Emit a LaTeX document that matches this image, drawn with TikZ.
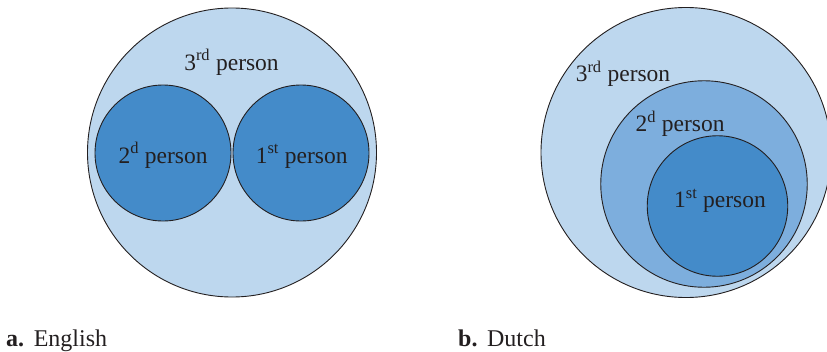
\documentclass[tikz,border=0pt]{standalone}
\usepackage{fontspec}
\setmainfont{Liberation Serif}
\definecolor{lightb}{RGB}{189,215,238}
\definecolor{midb}{RGB}{125,174,221}
\definecolor{darkb}{RGB}{68,139,201}
\definecolor{ink}{RGB}{35,31,32}
\begin{document}
\begin{tikzpicture}[x=1pt,y=-1pt,
  ring/.style={circle, draw=ink, line width=0.9pt, inner sep=0pt},
  lbl/.style={text=ink, font=\fontsize{23.5}{28}\selectfont, inner sep=0pt, anchor=base},
  captext/.style={text=ink, font=\fontsize{24}{28}\selectfont, inner sep=0pt, anchor=base west}]
\useasboundingbox (0,0) rectangle (827,351);
% a. English
\node[ring, fill=lightb, minimum size=289pt] (L3) at (232,152.5) {};
\node[ring, fill=darkb, minimum size=136pt] (L2) at (163,153) {};
\node[ring, fill=darkb, minimum size=136pt] (L1) at (301,153) {};
\node[lbl] (L3t) at (231.5,70) {3\textsuperscript{rd} person};
\node[lbl] (L2t) at (163,163) {2\textsuperscript{d} person};
\node[lbl] (L1t) at (301.7,163) {1\textsuperscript{st} person};
% b. Dutch
\node[ring, fill=lightb, minimum size=290pt] (R3) at (686,152.5) {};
\node[ring, fill=midb, minimum size=206.5pt] (R2) at (704,184) {};
\node[ring, fill=darkb, minimum size=140.5pt] (R1) at (717.5,206) {};
\node[lbl] (R3t) at (623,81.5) {3\textsuperscript{rd} person};
\node[lbl] (R2t) at (680,131.5) {2\textsuperscript{d} person};
\node[lbl] (R1t) at (720,207.5) {1\textsuperscript{st} person};
% captions
\node[captext] (ca) at (6,346.5) {\textbf{a.}\hspace{0.4em}English};
\node[captext] (cb) at (458,346.5) {\textbf{b.}\hspace{0.4em}Dutch};
\end{tikzpicture}
\end{document}
